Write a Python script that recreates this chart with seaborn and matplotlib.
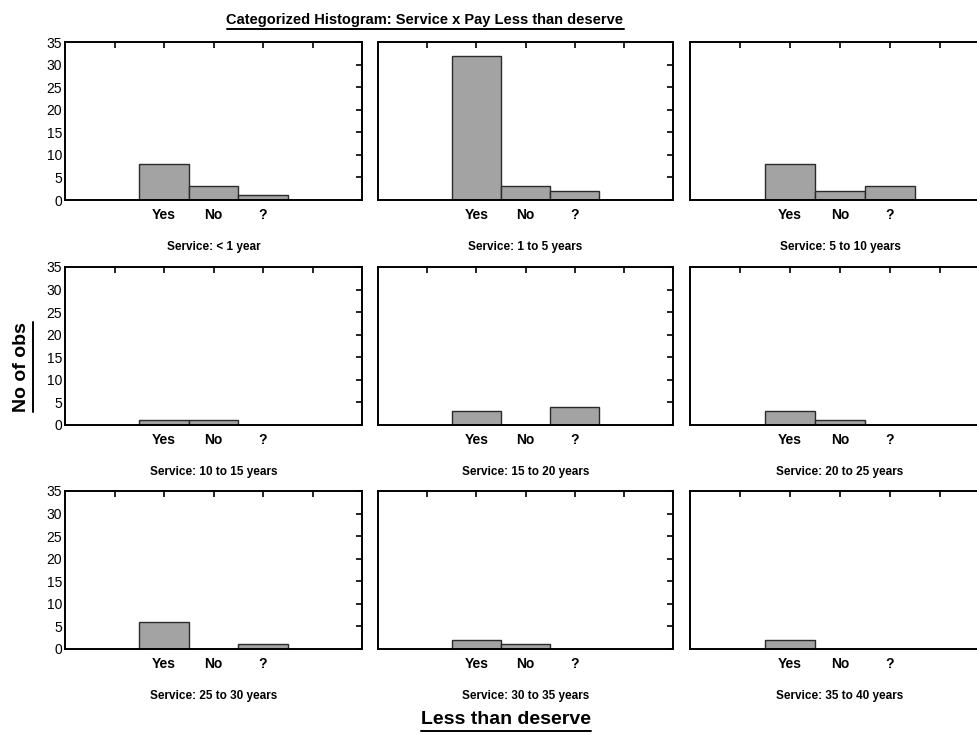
import matplotlib
matplotlib.use("Agg")
import matplotlib.pyplot as plt
from matplotlib.lines import Line2D
import seaborn as sns
import pandas as pd

# categories and counts
services = ["< 1 year", "1 to 5 years", "5 to 10 years",
            "10 to 15 years", "15 to 20 years", "20 to 25 years",
            "25 to 30 years", "30 to 35 years", "35 to 40 years"]
answers = ["Yes", "No", "?"]
yes_counts = [8, 32, 8, 1, 3, 3, 6, 2, 2]
no_counts = [3, 3, 2, 1, 0, 1, 0, 1, 0]
unk_counts = [1, 2, 3, 0, 4, 0, 1, 0, 0]

rows = []
for i, s in enumerate(services):
    for a, c in zip(answers, [yes_counts[i], no_counts[i], unk_counts[i]]):
        rows.append({"service": s, "answer": a, "count": c})
df = pd.DataFrame(rows)

sns.set_style("white")
plt.rcParams["font.family"] = ["Liberation Sans", "DejaVu Sans"]
plt.rcParams["text.color"] = "black"
plt.rcParams["xtick.color"] = "black"
plt.rcParams["ytick.color"] = "black"

W, H = 977, 735
fig = plt.figure(figsize=(W / 100, H / 100), dpi=100)

col_left = [65, 378, 690]
col_width = [297, 295, 300]
row_top = [42, 267, 491]
row_h = 158

def underline(txt, pad=2):
    fig.canvas.draw()
    bb = txt.get_window_extent(renderer=fig.canvas.get_renderer())
    if txt.get_rotation() == 90:
        x = (bb.x1 + pad) / W
        fig.add_artist(Line2D([x, x], [bb.y0 / H, bb.y1 / H], color="black", lw=1.4))
    else:
        y = (bb.y0 - pad) / H
        fig.add_artist(Line2D([bb.x0 / W, bb.x1 / W], [y, y], color="black", lw=1.4))

for i, s in enumerate(services):
    r, c = divmod(i, 3)
    ax = fig.add_axes([col_left[c] / W, 1 - (row_top[r] + row_h) / H,
                       col_width[c] / W, row_h / H])
    sub = df[df["service"] == s]
    sns.barplot(data=sub, x="answer", y="count", order=answers, color="#a3a3a3",
                width=1.0, edgecolor="#2a2a2a", linewidth=1.0, saturation=1, ax=ax)
    ax.set_xlim(-2, 4)
    ax.set_ylim(0, 35)
    ax.set_xticks([-1, 0, 1, 2, 3])
    ax.set_xticklabels(["", "Yes", "No", "?", ""], fontsize=10, fontweight="bold")
    ax.set_yticks(range(0, 36, 5))
    if c == 0:
        ax.set_yticklabels([str(v) for v in range(0, 36, 5)], fontsize=10)
    else:
        ax.set_yticklabels([])
    ax.tick_params(direction="in", top=True, right=True, length=4, width=1.2,
                   pad=6, colors="black")
    ax.tick_params(axis="y", pad=2)
    for sp in ax.spines.values():
        sp.set_visible(True)
        sp.set_linewidth(1.4)
        sp.set_color("black")
    ax.set_xlabel("")
    ax.set_ylabel("")
    ax.text(0.5, -0.30, "Service: " + s, transform=ax.transAxes, ha="center",
            va="center", fontsize=8.5, fontweight="bold")

t = fig.text(425 / W, 1 - 20 / H, "Categorized Histogram: Service x Pay Less than deserve",
             ha="center", va="center", fontsize=10.5, fontweight="bold")
yl = fig.text(22 / W, 1 - 367 / H, "No of obs", ha="center", va="center",
              rotation=90, fontsize=14, fontweight="bold")
xl = fig.text(506 / W, 1 - 720 / H, "Less than deserve", ha="center", va="center",
              fontsize=14, fontweight="bold")
for txt in (t, yl, xl):
    underline(txt)

fig.savefig("out.png", dpi=100)
